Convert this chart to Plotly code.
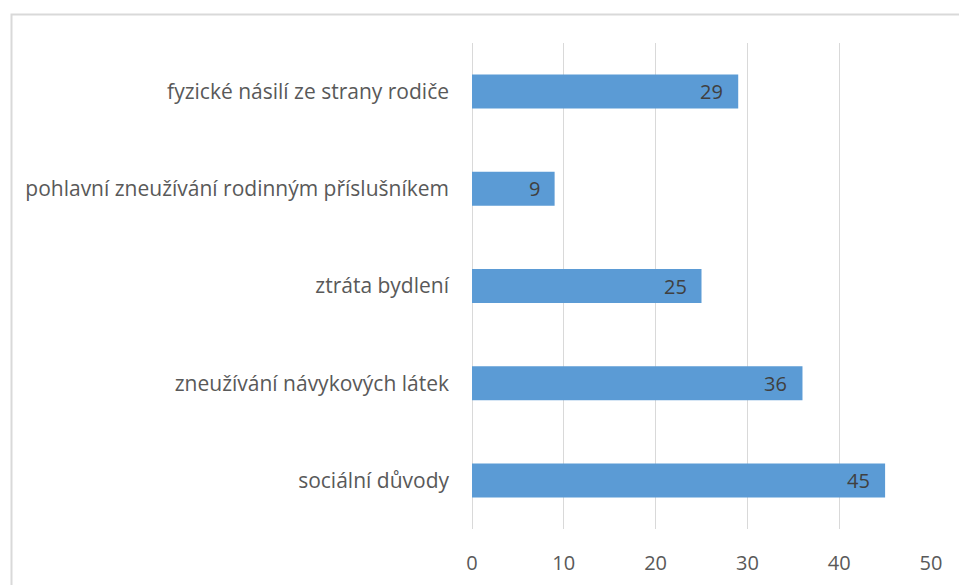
import plotly.graph_objects as go

# Categories listed top to bottom and their counts
categories = [
    "fyzické násilí ze strany rodiče",
    "pohlavní zneužívání rodinným příslušníkem",
    "ztráta bydlení",
    "zneužívání návykových látek",
    "sociální důvody",
]
values = [29, 9, 25, 36, 45]
x_ticks = [0, 10, 20, 30, 40, 50]

W, H = 959, 585
L, R, T, B = 472, 28, 43, 56
pw, ph = W - L - R, H - T - B
FONT = "'Open Sans', sans-serif"

def px_to_paper_x(px):
    return (px - L) / pw

def px_to_paper_y(py):
    return 1 - (py - T) / ph

fig = go.Figure(
    go.Bar(
        x=values,
        y=categories,
        orientation="h",
        marker=dict(color="#5b9bd5", line=dict(color="#5b9bd5", width=0)),
        hoverinfo="skip",
    )
)

# Value labels sitting inside the end of each bar
for v, c in zip(values, categories):
    fig.add_annotation(
        x=v, y=c, xref="x", yref="y", text=str(v),
        xanchor="right", yanchor="middle", xshift=-13, yshift=0,
        showarrow=False,
        font=dict(family=FONT, size=20, color="#404040"),
    )

# Chart-area frame (extends past the right and bottom edges)
fig.add_shape(
    type="rect", xref="paper", yref="paper",
    x0=px_to_paper_x(11.5), x1=px_to_paper_x(W + 20),
    y0=px_to_paper_y(H + 20), y1=px_to_paper_y(14.5),
    line=dict(color="#d9d9d9", width=2), fillcolor="rgba(0,0,0,0)",
    layer="below",
)

fig.update_layout(
    width=W, height=H,
    margin=dict(l=L, r=R, t=T, b=B, pad=0, autoexpand=False),
    paper_bgcolor="white", plot_bgcolor="white",
    showlegend=False,
    bargap=0.65,
    font=dict(family=FONT, size=20, color="#595959"),
    xaxis=dict(
        range=[0, 50], tickvals=x_ticks, ticktext=[str(t) for t in x_ticks],
        showgrid=True, gridcolor="#d9d9d9", gridwidth=1,
        zeroline=True, zerolinecolor="#d9d9d9", zerolinewidth=1,
        showline=False, ticks="", automargin=False,
        tickfont=dict(family=FONT, size=20, color="#595959"),
        ticklabelstandoff=20, fixedrange=True,
    ),
    yaxis=dict(
        categoryorder="array", categoryarray=categories[::-1],
        showgrid=False, zeroline=False, showline=False, ticks="",
        automargin=False,
        tickfont=dict(family=FONT, size=21, color="#595959"),
        ticklabelstandoff=22, fixedrange=True,
    ),
)

fig.write_html("out.html")
